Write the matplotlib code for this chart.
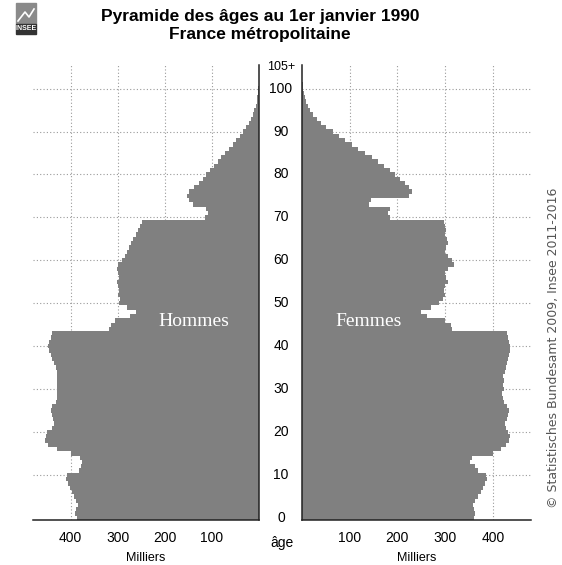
import matplotlib
matplotlib.use("Agg")
import matplotlib.pyplot as plt
from matplotlib.transforms import blended_transform_factory
from matplotlib.patches import Rectangle

# Pyramide des âges, France métropolitaine, 1er janvier 1990 (milliers)
ages = list(range(106))
hommes = [
    387, 390, 388, 385, 388, 392, 398, 402, 405, 410,
    408, 382, 378, 375, 380, 400, 430, 448, 455, 452,
    450, 440, 436, 438, 440, 442, 440, 432, 430, 428,
    430, 428, 430, 428, 430, 432, 436, 440, 442, 446,
    448, 445, 442, 440, 318, 315, 305, 275, 262, 280,
    298, 296, 300, 298, 300, 302, 298, 300, 302, 300,
    290, 285, 280, 276, 272, 268, 262, 258, 252, 248,
    115, 108, 112, 140, 148, 152, 148, 138, 128, 120,
    112, 104, 96, 88, 80, 72, 64, 56, 48, 41,
    34, 28, 22, 17, 13, 10, 7, 5, 3.5, 2.5,
    1.5, 1, 0.6, 0.4, 0.2, 0.3,
]
femmes = [
    360, 362, 360, 358, 362, 368, 375, 380, 384, 388,
    385, 368, 362, 352, 356, 400, 418, 428, 434, 436,
    432, 428, 426, 430, 432, 434, 430, 424, 422, 420,
    424, 422, 424, 422, 425, 428, 430, 432, 434, 436,
    437, 434, 432, 430, 315, 312, 300, 262, 250, 270,
    288, 296, 300, 298, 300, 305, 302, 300, 305, 318,
    315, 305, 300, 302, 305, 303, 300, 302, 300, 298,
    185, 180, 185, 140, 145, 225, 230, 225, 215, 205,
    195, 185, 172, 160, 146, 132, 118, 104, 90, 77,
    64, 50, 40, 31, 23, 17, 12, 8, 5.5, 3.5,
    2.2, 1.4, 0.9, 0.5, 0.3, 0.3,
]
x_ticks = [100, 200, 300, 400]
age_ticks = [0, 10, 20, 30, 40, 50, 60, 70, 80, 90, 100, 105]
age_labels = ["0", "10", "20", "30", "40", "50", "60", "70", "80", "90",
              "100", "105+"]

plt.rcParams["font.family"] = ["Liberation Sans", "DejaVu Sans"]
BAR = "#808080"
GRID = "#9a9a9a"

W, H = 562, 565
fig = plt.figure(figsize=(W / 100, H / 100), dpi=100)


def fx(px):
    return px / W


def fy(py):
    return 1 - py / H


bottom, top = fy(520), fy(65)
axL = fig.add_axes([fx(33), bottom, fx(259) - fx(33), top - bottom])
axR = fig.add_axes([fx(302), bottom, fx(531) - fx(302), top - bottom])

for ax, vals in ((axL, hommes), (axR, femmes)):
    ax.barh(ages, vals, height=1.0, color=BAR, linewidth=0)
    ax.set_xlim(0, 480)
    ax.set_ylim(-0.5, 105.5)
    ax.set_axisbelow(True)
    ax.set_xticks(x_ticks)
    ax.set_yticks(range(10, 101, 10))
    ax.set_yticklabels([])
    ax.grid(True, color=GRID, linestyle=(0, (1, 2)), linewidth=0.8)
    ax.tick_params(length=0, labelsize=10, pad=8)
    ax.spines["top"].set_visible(False)
    for s in ax.spines.values():
        s.set_color("#222222")
        s.set_linewidth(1.1)
    ax.set_xlabel("Milliers", fontsize=9, labelpad=5)

axL.invert_xaxis()
axL.spines["left"].set_visible(False)
axR.spines["right"].set_visible(False)

# age labels between the two halves
trans = blended_transform_factory(fig.transFigure, axL.transData)
for a, lab in zip(age_ticks, age_labels):
    fig.text(fx(281), a, lab, transform=trans, ha="center", va="center",
             fontsize=10 if a < 105 else 9)
fig.text(fx(282), fy(543), "âge", ha="center", va="center", fontsize=10)

axL.text(0.71, 45.8, "Hommes", transform=blended_transform_factory(
    axL.transAxes, axL.transData), ha="center", va="center", color="white",
    fontsize=14, family="Liberation Serif")
axR.text(0.29, 45.8, "Femmes", transform=blended_transform_factory(
    axR.transAxes, axR.transData), ha="center", va="center", color="white",
    fontsize=14, family="Liberation Serif")

fig.text(fx(260), fy(17), "Pyramide des âges au 1er janvier 1990",
         ha="center", va="center", fontsize=12.5, fontweight="bold")
fig.text(fx(260), fy(35), "France métropolitaine",
         ha="center", va="center", fontsize=12.5, fontweight="bold")

fig.text(fx(553), fy(348), "© Statistisches Bundesamt 2009, Insee 2011-2016",
         rotation=90, ha="center", va="center", fontsize=9,
         family="DejaVu Sans", color="#555555")

# small INSEE logo
fig.patches.append(Rectangle((fx(16), fy(24)), fx(20), fy(3) - fy(24),
                             transform=fig.transFigure, color="#8a8a8a"))
fig.lines.append(plt.Line2D([fx(18), fx(25), fx(29), fx(34)],
                            [fy(21), fy(12), fy(17), fy(9)],
                            transform=fig.transFigure, color="white", lw=1.2))
fig.patches.append(Rectangle((fx(16), fy(34)), fx(20), fy(24) - fy(34),
                             transform=fig.transFigure, color="#333333"))
fig.text(fx(26), fy(29), "INSEE", ha="center", va="center", fontsize=5,
         fontweight="bold", color="white")

fig.savefig("out.png", dpi=100)
